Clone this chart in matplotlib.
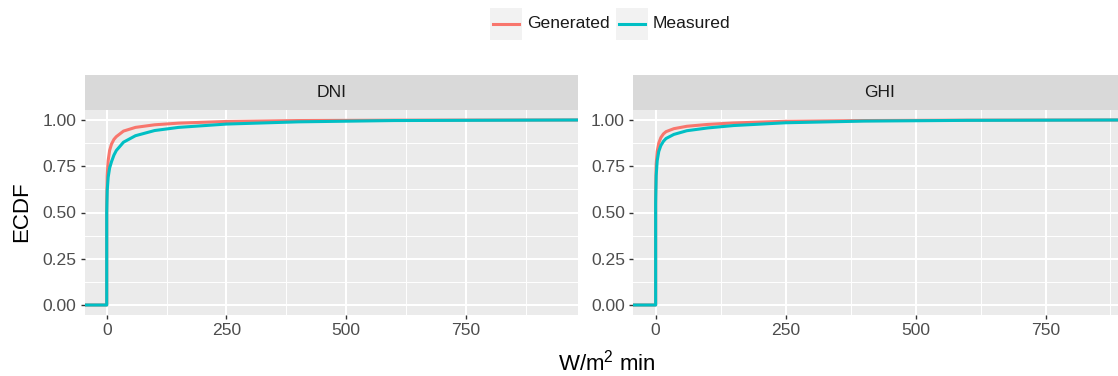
import numpy as np
import matplotlib
matplotlib.use("Agg")
import matplotlib.pyplot as plt
from matplotlib.patches import Rectangle

plt.rcParams['font.family'] = ['Liberation Sans', 'DejaVu Sans']
plt.rcParams['mathtext.fontset'] = 'custom'
plt.rcParams['mathtext.rm'] = 'Liberation Sans'

# ECDF curves (x in W/m^2 min, y = ECDF)
dni_x = [-46, 0, 0, 1, 3, 6, 10, 15, 20, 35, 60, 100, 150, 250, 400, 600, 984]
dni_generated = [0, 0, 0.55, 0.70, 0.78, 0.835, 0.87, 0.895, 0.91, 0.94, 0.96, 0.974, 0.983, 0.992, 0.997, 0.999, 1.0]
dni_measured = [0, 0, 0.50, 0.62, 0.69, 0.74, 0.775, 0.81, 0.835, 0.88, 0.915, 0.943, 0.96, 0.978, 0.99, 0.997, 1.0]

ghi_x = [-43, 0, 0, 1, 3, 6, 10, 15, 20, 35, 60, 100, 150, 250, 400, 600, 906]
ghi_generated = [0, 0, 0.60, 0.76, 0.83, 0.875, 0.905, 0.925, 0.937, 0.953, 0.966, 0.976, 0.984, 0.993, 0.997, 0.999, 1.0]
ghi_measured = [0, 0, 0.55, 0.70, 0.78, 0.83, 0.862, 0.885, 0.9, 0.922, 0.942, 0.957, 0.97, 0.985, 0.994, 0.998, 1.0]

panels = ["DNI", "GHI"]
series = ["Generated", "Measured"]
colors = ["#F8766D", "#00BFC4"]
x_ticks = [0, 250, 500, 750]
x_minor = [125, 375, 625, 875]
y_ticks = [0, 0.25, 0.5, 0.75, 1.0]
y_minor = [0.125, 0.375, 0.625, 0.875]

W, H = 1118, 376
fig = plt.figure(figsize=(W / 100, H / 100), dpi=100)


def px_box(l, t, r, b):
    # pixel box -> figure fraction [left, bottom, width, height]
    return [l / W, 1 - b / H, (r - l) / W, (b - t) / H]


def draw_panel(left, right, name, xs, ys, xlim):
    ax = fig.add_axes(px_box(left, 110, right, 315))
    ax.set_facecolor("#EBEBEB")
    for s in ax.spines.values():
        s.set_visible(False)
    ax.set_xlim(*xlim)
    ax.set_ylim(-0.054, 1.054)
    ax.set_xticks(x_ticks)
    ax.set_xticks(x_minor, minor=True)
    ax.set_yticks(y_ticks)
    ax.set_yticks(y_minor, minor=True)
    ax.set_yticklabels(["0.00", "0.25", "0.50", "0.75", "1.00"])
    ax.grid(which="major", color="white", lw=1.5)
    ax.grid(which="minor", color="white", lw=0.7)
    ax.set_axisbelow(True)
    ax.tick_params(which="major", length=3, width=1, color="#333333",
                   labelsize=12.6, labelcolor="#4D4D4D", pad=3)
    ax.tick_params(which="minor", length=0)
    for y, c in zip(ys, colors):
        ax.plot(xs, y, color=c, lw=2.2, solid_joinstyle="round")

    strip = fig.add_axes(px_box(left, 75, right, 110))
    strip.set_facecolor("#D9D9D9")
    strip.set_xticks([])
    strip.set_yticks([])
    for s in strip.spines.values():
        s.set_visible(False)
    strip.text(0.5, 0.5, name, ha="center", va="center", fontsize=12.6,
               color="#1A1A1A", transform=strip.transAxes)
    return ax


ax1 = draw_panel(84.7, 578, panels[0], dni_x, [dni_generated, dni_measured], (-46, 984))
ax2 = draw_panel(633.3, 1126.6, panels[1], ghi_x, [ghi_generated, ghi_measured], (-43, 906))

fig.text(22 / W, 1 - 212 / H, "ECDF", rotation=90, ha="center", va="center", fontsize=16)
fig.text(607 / W, 1 - 363 / H, r"W/m$^2$ min", ha="center", va="center", fontsize=16)

# legend drawn in pixel space
leg = fig.add_axes([0, 0, 1, 1], zorder=-1)
leg.set_xlim(0, W)
leg.set_ylim(H, 0)
leg.axis("off")
key_x = [490, 616]
for kx, lab, c in zip(key_x, series, colors):
    leg.add_patch(Rectangle((kx, 8), 32, 32, facecolor="#F2F2F2", edgecolor="none"))
    leg.plot([kx + 3, kx + 29], [24, 24], color=c, lw=2.2)
    leg.text(kx + 37, 24, lab, ha="left", va="center", fontsize=12.6, color="#1A1A1A")

fig.savefig("out.png", dpi=100)
